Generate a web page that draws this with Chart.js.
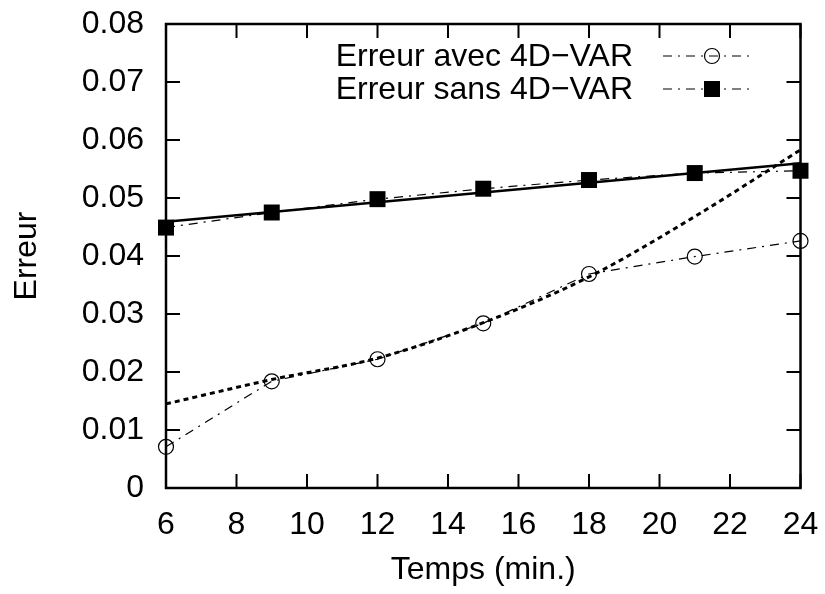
<!DOCTYPE html>
<html>
<head>
<meta charset="utf-8">
<script src="https://cdn.jsdelivr.net/npm/chart.js@4/dist/chart.umd.min.js"></script>
<style>
  html, body { margin: 0; padding: 0; background: #fff; }
  #wrap { width: 825px; height: 594px; }
</style>
</head>
<body>
<div id="wrap"><canvas id="chart" width="825" height="594"></canvas></div>
<script>
// Data
const temps = [6, 9, 12, 15, 18, 21, 24];
const erreurAvec = [0.0071, 0.0184, 0.0222, 0.0284, 0.0369, 0.0399, 0.0426];
const erreurSans = [0.0449, 0.0475, 0.0498, 0.0516, 0.0531, 0.0543, 0.0547];
const fitSansX = [6, 24];
const fitSans = [0.0459, 0.0560];
const fitAvec = [0.0145, 0.0187, 0.0224, 0.0285, 0.0364, 0.0468, 0.0583];
const xTicks = [6, 8, 10, 12, 14, 16, 18, 20, 22, 24];
const yTicks = ['0', '0.01', '0.02', '0.03', '0.04', '0.05', '0.06', '0.07', '0.08'];
const legendLabels = ['Erreur avec 4D\u2212VAR', 'Erreur sans 4D\u2212VAR'];

const FONT = 'Liberation Sans, Arial, Helvetica, sans-serif';

function toPoints(xs, ys) {
    return xs.map((x, i) => ({ x: x, y: ys[i] }));
}

// Border, inward ticks on all four sides, and the gnuplot style key
const framePlugin = {
    id: 'frame',
    afterDraw(chart) {
        const ctx = chart.ctx;
        const a = chart.chartArea;
        const xs = chart.scales.x;
        const ys = chart.scales.y;
        const tl = 14;
        ctx.save();
        ctx.strokeStyle = '#000';
        ctx.lineWidth = 2;
        ctx.beginPath();
        xTicks.forEach(v => {
            const px = xs.getPixelForValue(v);
            ctx.moveTo(px, a.bottom); ctx.lineTo(px, a.bottom - tl);
            ctx.moveTo(px, a.top); ctx.lineTo(px, a.top + tl);
        });
        yTicks.forEach(t => {
            const py = ys.getPixelForValue(parseFloat(t));
            ctx.moveTo(a.left, py); ctx.lineTo(a.left + tl, py);
            ctx.moveTo(a.right, py); ctx.lineTo(a.right - tl, py);
        });
        ctx.stroke();
        ctx.lineWidth = 2.5;
        ctx.strokeRect(a.left, a.top, a.right - a.left, a.bottom - a.top);

        // key
        const rows = [56, 89];
        const entries = [chart.data.datasets[0], chart.data.datasets[1]];
        ctx.font = '32px ' + FONT;
        ctx.fillStyle = '#000';
        ctx.textAlign = 'right';
        ctx.textBaseline = 'middle';
        entries.forEach((ds, i) => {
            const y = rows[i];
            ctx.fillText(legendLabels[i], 633, y + 1);
            ctx.save();
            ctx.lineWidth = ds.borderWidth;
            ctx.setLineDash(ds.borderDash);
            ctx.strokeStyle = '#000';
            ctx.beginPath();
            ctx.moveTo(663, y);
            ctx.lineTo(755, y);
            ctx.stroke();
            ctx.setLineDash([]);
            ctx.fillStyle = ds.pointBackgroundColor;
            ctx.strokeStyle = ds.pointBorderColor;
            ctx.lineWidth = ds.pointBorderWidth;
            Chart.helpers.drawPoint(ctx, {
                pointStyle: ds.pointStyle,
                radius: ds.pointRadius,
                rotation: 0,
                borderWidth: ds.pointBorderWidth
            }, 712, y);
            ctx.restore();
        });
        ctx.restore();
    }
};

const ctx = document.getElementById('chart').getContext('2d');
new Chart(ctx, {
    type: 'line',
    data: {
        datasets: [
            {
                label: legendLabels[0],
                data: toPoints(temps, erreurAvec),
                borderColor: '#000',
                borderWidth: 1.2,
                borderDash: [9, 6, 2, 6],
                pointStyle: 'circle',
                pointRadius: 7.5,
                pointBorderWidth: 1.2,
                pointBorderColor: '#000',
                pointBackgroundColor: 'rgba(0,0,0,0)',
                tension: 0,
                clip: false
            },
            {
                label: legendLabels[1],
                data: toPoints(temps, erreurSans),
                borderColor: '#000',
                borderWidth: 1.2,
                borderDash: [9, 6, 2, 6],
                pointStyle: 'rect',
                pointRadius: 11.3,
                pointBorderWidth: 0,
                pointBorderColor: '#000',
                pointBackgroundColor: '#000',
                tension: 0,
                clip: false
            },
            {
                label: 'fit sans',
                data: toPoints(fitSansX, fitSans),
                borderColor: '#000',
                borderWidth: 2.5,
                pointRadius: 0,
                tension: 0,
                clip: false
            },
            {
                label: 'fit avec',
                data: toPoints(temps, fitAvec),
                borderColor: '#000',
                borderWidth: 3,
                borderDash: [5, 4],
                pointRadius: 0,
                cubicInterpolationMode: 'monotone',
                clip: false
            }
        ]
    },
    options: {
        responsive: false,
        animation: false,
        devicePixelRatio: 1,
        layout: { padding: { top: 24, right: 24.5, left: 0, bottom: 0 } },
        plugins: {
            legend: { display: false },
            tooltip: { enabled: false }
        },
        scales: {
            x: {
                type: 'linear',
                min: 6,
                max: 24,
                afterFit: s => {
                    s.height = 106;
                    s.paddingLeft = 0;
                    s.paddingRight = 0;
                },
                afterBuildTicks: s => { s.ticks = xTicks.map(v => ({ value: v })); },
                grid: { display: false, drawTicks: false },
                border: { display: false },
                ticks: {
                    color: '#000',
                    font: { family: FONT, size: 32 },
                    padding: 18,
                    maxRotation: 0,
                    autoSkip: false
                },
                title: {
                    display: true,
                    text: 'Temps (min.)',
                    color: '#000',
                    font: { family: FONT, size: 32 },
                    padding: { top: 0, bottom: 5 }
                }
            },
            y: {
                min: 0,
                max: 0.08,
                afterFit: s => {
                    s.width = 166;
                    s.paddingTop = 0;
                    s.paddingBottom = 0;
                },
                afterBuildTicks: s => { s.ticks = yTicks.map(t => ({ value: parseFloat(t) })); },
                grid: { display: false, drawTicks: false },
                border: { display: false },
                ticks: {
                    color: '#000',
                    font: { family: FONT, size: 32 },
                    padding: 22,
                    autoSkip: false,
                    callback: (value, index) => yTicks[index]
                },
                title: {
                    display: true,
                    text: 'Erreur',
                    color: '#000',
                    font: { family: FONT, size: 32 },
                    padding: { top: 8, bottom: 0 }
                }
            }
        }
    },
    plugins: [framePlugin]
});
</script>
</body>
</html>
